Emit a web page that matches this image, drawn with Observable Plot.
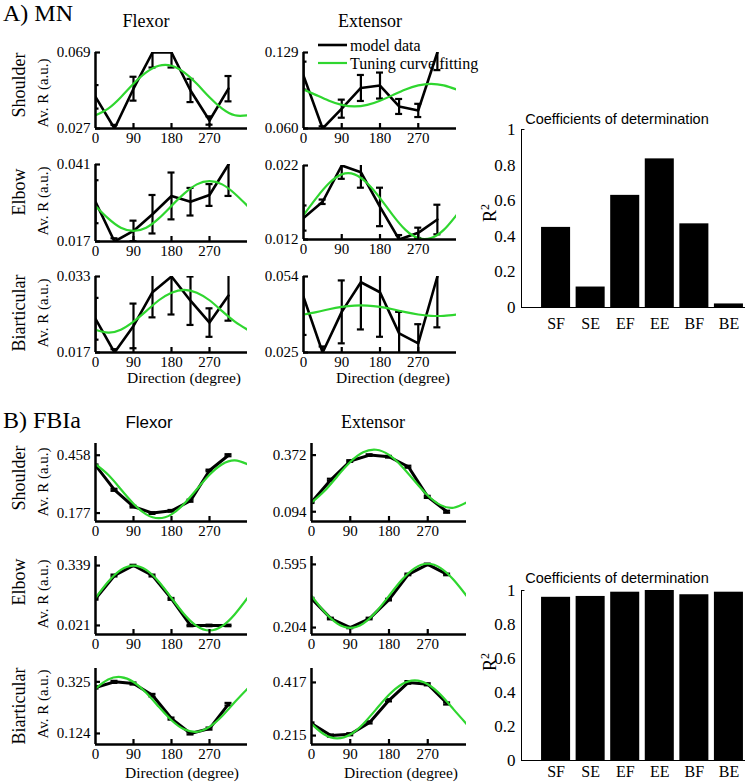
<!DOCTYPE html>
<html><head><meta charset="utf-8">
<script src="https://cdn.jsdelivr.net/npm/d3@7"></script>
<script src="https://cdn.jsdelivr.net/npm/@observablehq/plot@0.6"></script>
<style>
html,body{margin:0;padding:0;background:#fff;}
#fig{position:relative;width:745px;height:783px;overflow:hidden;background:#fff;}
#fig svg{position:absolute;}
</style></head><body><div id="fig"></div>
<script>
// ---------- data ----------
const directions = [0, 45, 90, 135, 180, 225, 270, 315];
const fitDirections = [0, 30, 60, 90, 120, 150, 180, 210, 240, 270, 300, 330, 360];
const directionTicks = [0, 90, 180, 270];

// A) MN
const mnShoulderFlexor = [0.0445, 0.027, 0.049, 0.069, 0.069, 0.048, 0.0314, 0.049];
const mnShoulderFlexorErr = [0.0065, 0.002, 0.0066, 0.0083, 0.0083, 0.0064, 0.0023, 0.007];
const mnShoulderFlexorFit = [0.0343, 0.0380, 0.0443, 0.0517, 0.0580, 0.0617, 0.0617, 0.0580, 0.0517, 0.0443, 0.0380, 0.0343, 0.0343];
const mnShoulderFlexorTicks = [0.027, 0.069];

const mnShoulderExtensor = [0.108, 0.060, 0.078, 0.0968, 0.099, 0.080, 0.0764, 0.129];
const mnShoulderExtensorErr = [0.0127, 0.002, 0.0082, 0.0118, 0.0118, 0.0068, 0.006, 0.016];
const mnShoulderExtensorFit = [0.0955, 0.0903, 0.0852, 0.0814, 0.0800, 0.0814, 0.0852, 0.0903, 0.0955, 0.0992, 0.1006, 0.0992, 0.0955];
const mnShoulderExtensorTicks = [0.060, 0.129];

const mnElbowFlexor = [0.0294, 0.017, 0.0203, 0.0255, 0.0312, 0.0294, 0.0315, 0.041];
const mnElbowFlexorErr = [0.0067, 0.001, 0.0032, 0.006, 0.0073, 0.0043, 0.0034, 0.0098];
const mnElbowFlexorFit = [0.0281, 0.0242, 0.0213, 0.0203, 0.0213, 0.0242, 0.0281, 0.0319, 0.0348, 0.0358, 0.0348, 0.0319, 0.0281];
const mnElbowFlexorTicks = [0.017, 0.041];

const mnElbowExtensor = [0.0149, 0.0171, 0.022, 0.0211, 0.0164, 0.012, 0.0129, 0.0147];
const mnElbowExtensorErr = [0.0017, 0.0003, 0.0018, 0.0021, 0.0026, 0.0006, 0.0007, 0.002];
const mnElbowExtensorFit = [0.0153, 0.0176, 0.0196, 0.0208, 0.0208, 0.0196, 0.0176, 0.0153, 0.0133, 0.0122, 0.0122, 0.0133, 0.0153];
const mnElbowExtensorTicks = [0.012, 0.022];

const mnBiarticularFlexor = [0.0241, 0.017, 0.0226, 0.0297, 0.033, 0.0279, 0.0233, 0.029];
const mnBiarticularFlexorErr = [0.0044, 0.0007, 0.0047, 0.0053, 0.008, 0.0051, 0.003, 0.0053];
const mnBiarticularFlexorFit = [0.0218, 0.0212, 0.0218, 0.0235, 0.0257, 0.0280, 0.0296, 0.0302, 0.0296, 0.0280, 0.0257, 0.0235, 0.0218];
const mnBiarticularFlexorTicks = [0.017, 0.033];

const mnBiarticularExtensor = [0.0462, 0.025, 0.0405, 0.0518, 0.048, 0.0323, 0.0285, 0.054];
const mnBiarticularExtensorErr = [0.0145, 0.0023, 0.012, 0.018, 0.017, 0.0082, 0.0073, 0.0194];
const mnBiarticularExtensorFit = [0.0395, 0.0404, 0.0415, 0.0424, 0.0429, 0.0429, 0.0424, 0.0415, 0.0404, 0.0395, 0.0390, 0.0390, 0.0395];
const mnBiarticularExtensorTicks = [0.025, 0.054];

// B) FBIa
const fbShoulderFlexor = [0.409, 0.290, 0.208, 0.177, 0.188, 0.237, 0.384, 0.458];
const fbShoulderFlexorErr = [0.004, 0.005, 0.004, 0.004, 0.004, 0.005, 0.004, 0.005];
const fbShoulderFlexorFit = [0.4142, 0.3628, 0.2925, 0.2223, 0.1708, 0.1520, 0.1708, 0.2223, 0.2925, 0.3628, 0.4142, 0.4330, 0.4142];
const fbShoulderFlexorTicks = [0.177, 0.458];

const fbShoulderExtensor = [0.141, 0.251, 0.343, 0.372, 0.364, 0.315, 0.167, 0.094];
const fbShoulderExtensorErr = [0.004, 0.005, 0.004, 0.004, 0.004, 0.005, 0.005, 0.005];
const fbShoulderExtensorFit = [0.139, 0.1955, 0.2684, 0.3381, 0.3856, 0.3984, 0.3731, 0.3165, 0.2436, 0.1739, 0.1264, 0.1136, 0.139];
const fbShoulderExtensorTicks = [0.094, 0.372];

const fbElbowFlexor = [0.162, 0.286, 0.339, 0.286, 0.162, 0.021, 0.021, 0.021];
const fbElbowFlexorErr = [0.004, 0.005, 0.004, 0.005, 0.005, 0.004, 0.004, 0.004];
const fbElbowFlexorFit = [0.1668, 0.2530, 0.3160, 0.3391, 0.3160, 0.2530, 0.1668, 0.0807, 0.0176, -0.0055, 0.0176, 0.0807, 0.1668];
const fbElbowFlexorTicks = [0.021, 0.339];

const fbElbowExtensor = [0.383, 0.260, 0.204, 0.260, 0.377, 0.533, 0.595, 0.533];
const fbElbowExtensorErr = [0.005, 0.005, 0.004, 0.005, 0.005, 0.005, 0.005, 0.005];
const fbElbowExtensorFit = [0.4005, 0.3013, 0.2286, 0.2020, 0.2286, 0.3013, 0.4005, 0.4998, 0.5724, 0.5990, 0.5724, 0.4998, 0.4005];
const fbElbowExtensorTicks = [0.204, 0.595];

const fbBiarticularFlexor = [0.303, 0.325, 0.3185, 0.273, 0.182, 0.124, 0.143, 0.238];
const fbBiarticularFlexorErr = [0.004, 0.004, 0.004, 0.005, 0.004, 0.004, 0.004, 0.005];
const fbBiarticularFlexorFit = [0.2984, 0.3339, 0.3436, 0.3246, 0.2823, 0.2277, 0.1756, 0.1401, 0.1304, 0.1494, 0.1917, 0.2463, 0.2984];
const fbBiarticularFlexorTicks = [0.124, 0.325];

const fbBiarticularExtensor = [0.261, 0.215, 0.220, 0.265, 0.349, 0.417, 0.410, 0.337];
const fbBiarticularExtensorErr = [0.004, 0.004, 0.004, 0.004, 0.004, 0.005, 0.004, 0.004];
const fbBiarticularExtensorFit = [0.2593, 0.2188, 0.2040, 0.2188, 0.2593, 0.3145, 0.3698, 0.4102, 0.4250, 0.4102, 0.3698, 0.3145, 0.2593];
const fbBiarticularExtensorTicks = [0.215, 0.417];

// Coefficients of determination
const r2Labels = ["SF", "SE", "EF", "EE", "BF", "BE"];
const mnR2 = [0.45, 0.115, 0.63, 0.835, 0.47, 0.02];
const fbR2 = [0.96, 0.965, 0.99, 1.0, 0.975, 0.99];
const r2Ticks = [0, 0.2, 0.4, 0.6, 0.8, 1];

// ---------- layout ----------
const SERIF = "'Liberation Serif', 'Times New Roman', serif";
const SANS = "'Liberation Sans', Arial, sans-serif";
const GREEN = "#2fd62f";
const fig = document.getElementById("fig");

function linePanel(values, errs, fit, ticks, domain, frame, lw) {
  const [left, top, right, bottom] = frame;
  const mL = 62, mR = 8, mT = 8, mB = 26;
  const W = right - left + mL + mR, H = bottom - top + mT + mB;
  const pts = directions.map((d, i) => ({dir: d, v: values[i], e: errs[i]}));
  const fitPts = fitDirections.map((d, i) => ({dir: d, v: fit[i]}));
  const tickLenY = (domain[1] - domain[0]) * 5 / (bottom - top);
  const tickLenX = 360 * 5 / (right - left);
  const cap = 360 * 3.5 / (right - left);
  const svg = Plot.plot({
    width: W, height: H, marginLeft: mL, marginRight: mR, marginTop: mT, marginBottom: mB,
    x: {domain: [0, 360]},
    y: {domain},
    style: {background: "transparent", overflow: "visible", fontFamily: SERIF, fontSize: "15px", color: "black"},
    marks: [
      Plot.axisX({ticks: directionTicks, tickSize: 0, tickPadding: 4, label: null, fontSize: 15}),
      Plot.axisY({ticks, tickSize: 0, tickPadding: 5, tickFormat: d3.format(".3f"), label: null, fontSize: 15}),
      Plot.ruleX(pts, {x: "dir", y1: d => d.v - d.e, y2: d => d.v + d.e, stroke: "black", strokeWidth: 2.2, clip: true}),
      Plot.ruleY(pts, {y: d => d.v - d.e, x1: d => d.dir - cap, x2: d => d.dir + cap, stroke: "black", strokeWidth: 2.2, clip: true}),
      Plot.ruleY(pts, {y: d => d.v + d.e, x1: d => d.dir - cap, x2: d => d.dir + cap, stroke: "black", strokeWidth: 2.2, clip: true}),
      Plot.line(pts, {x: "dir", y: "v", stroke: "black", strokeWidth: lw, clip: true}),
      Plot.line(fitPts, {x: "dir", y: "v", stroke: GREEN, strokeWidth: 2.2, curve: "natural", clip: true}),
      Plot.ruleX([0], {stroke: "black", strokeWidth: 2.5}),
      Plot.ruleY([domain[0]], {stroke: "black", strokeWidth: 2.5}),
      Plot.ruleY(ticks, {x1: 0, x2: tickLenX, stroke: "black", strokeWidth: 2.2}),
      Plot.ruleX([90, 180, 270], {y1: domain[0], y2: domain[0] + tickLenY, stroke: "black", strokeWidth: 2.2})
    ]
  });
  svg.style.left = (left - mL) + "px";
  svg.style.top = (top - mT) + "px";
  fig.appendChild(svg);
}

function barPanel(vals, top, bottom, xPad) {
  const left = 460, mL = 61, mR = 7, mT = 30, mB = 30, W = 310;
  const data = vals.map((v, i) => ({pos: i + 1, v}));
  const svg = Plot.plot({
    width: W, height: bottom - top + mT + mB, marginLeft: mL, marginRight: mR, marginTop: mT, marginBottom: mB,
    x: {domain: [0, 7]},
    y: {domain: [0, 1]},
    style: {background: "transparent", overflow: "visible", fontFamily: SERIF, fontSize: "17px", color: "black"},
    marks: [
      Plot.rectY(data, {x1: d => d.pos - 0.42, x2: d => d.pos + 0.42, y: "v", fill: "black"}),
      Plot.ruleX([0], {stroke: "black", strokeWidth: 1}),
      Plot.ruleY([0], {stroke: "black", strokeWidth: 1}),
      Plot.ruleY([1], {x1: 0, x2: 0.1, stroke: "black", strokeWidth: 1}),
      Plot.axisY({ticks: r2Ticks, tickSize: 0, tickPadding: 6, tickFormat: d => String(d), label: null, fontSize: 17}),
      Plot.axisX({ticks: data.map(d => d.pos), tickSize: 0, tickPadding: xPad, tickFormat: p => r2Labels[p - 1], label: null, fontSize: 16})
    ]
  });
  svg.style.left = left + "px";
  svg.style.top = (top - mT) + "px";
  fig.appendChild(svg);
}

// A) MN panels  frame = [left, top, right, bottom]
linePanel(mnShoulderFlexor, mnShoulderFlexorErr, mnShoulderFlexorFit, mnShoulderFlexorTicks, mnShoulderFlexorTicks, [95, 52, 247, 128], 2.6);
linePanel(mnShoulderExtensor, mnShoulderExtensorErr, mnShoulderExtensorFit, mnShoulderExtensorTicks, mnShoulderExtensorTicks, [303, 52, 456, 128], 2.6);
linePanel(mnElbowFlexor, mnElbowFlexorErr, mnElbowFlexorFit, mnElbowFlexorTicks, mnElbowFlexorTicks, [95, 164, 247, 241], 2.6);
linePanel(mnElbowExtensor, mnElbowExtensorErr, mnElbowExtensorFit, mnElbowExtensorTicks, mnElbowExtensorTicks, [303, 165, 456, 239], 2.6);
linePanel(mnBiarticularFlexor, mnBiarticularFlexorErr, mnBiarticularFlexorFit, mnBiarticularFlexorTicks, mnBiarticularFlexorTicks, [95, 276, 247, 352], 2.6);
linePanel(mnBiarticularExtensor, mnBiarticularExtensorErr, mnBiarticularExtensorFit, mnBiarticularExtensorTicks, mnBiarticularExtensorTicks, [303, 276, 456, 352], 2.6);

// B) FBIa panels
linePanel(fbShoulderFlexor, fbShoulderFlexorErr, fbShoulderFlexorFit, fbShoulderFlexorTicks, [0.136, 0.515], [95, 443, 247, 521], 3);
linePanel(fbShoulderExtensor, fbShoulderExtensorErr, fbShoulderExtensorFit, fbShoulderExtensorTicks, [0.046, 0.429], [311, 443, 466, 521], 3);
linePanel(fbElbowFlexor, fbElbowFlexorErr, fbElbowFlexorFit, fbElbowFlexorTicks, [-0.027, 0.387], [95, 556, 247, 634], 3);
linePanel(fbElbowExtensor, fbElbowExtensorErr, fbElbowExtensorFit, fbElbowExtensorTicks, [0.161, 0.644], [311, 556, 466, 634], 3);
linePanel(fbBiarticularFlexor, fbBiarticularFlexorErr, fbBiarticularFlexorFit, fbBiarticularFlexorTicks, [0.081, 0.377], [95, 668, 247, 744], 3);
linePanel(fbBiarticularExtensor, fbBiarticularExtensorErr, fbBiarticularExtensorFit, fbBiarticularExtensorTicks, [0.181, 0.470], [311, 668, 466, 744], 3);

// bar charts
barPanel(mnR2, 129, 307, 10);
barPanel(fbR2, 590, 760, 5);

// ---------- text overlay ----------
const overlay = d3.create("svg").attr("width", 745).attr("height", 783)
  .style("left", "0px").style("top", "0px").style("pointer-events", "none");
function txt(x, y, s, {size = 15, family = SERIF, anchor = "start", rotate = 0} = {}) {
  const t = overlay.append("text").attr("x", x).attr("y", y)
    .attr("font-size", size).attr("font-family", family)
    .attr("text-anchor", anchor).attr("fill", "black").text(s);
  if (rotate) t.attr("transform", `rotate(${rotate},${x},${y})`);
  return t;
}
txt(3, 21, "A) MN", {size: 24});
txt(3, 428, "B) FBIa", {size: 24});
txt(146, 27, "Flexor", {size: 18, anchor: "middle"});
txt(370, 27, "Extensor", {size: 18, anchor: "middle"});
txt(149, 428, "Flexor", {size: 17, anchor: "middle", family: SANS});
txt(373, 428, "Extensor", {size: 18, anchor: "middle"});

const rowLabels = [["Shoulder", 85, 93], ["Elbow", 192, 201], ["Biarticular", 313, 313],
                   ["Shoulder", 478, 482], ["Elbow", 582, 594], ["Biarticular", 706, 704]];
rowLabels.forEach(([s, cy, ay]) => {
  txt(25, cy, s, {size: 18, anchor: "middle", rotate: -90});
  txt(48, ay, "Av. R (a.u.)", {size: 15, anchor: "middle", rotate: -90});
});
txt(184, 383, "Direction (degree)", {size: 15.5, anchor: "middle"});
txt(393, 383, "Direction (degree)", {size: 15.5, anchor: "middle"});
txt(182, 778, "Direction (degree)", {size: 15.5, anchor: "middle"});
txt(401, 778, "Direction (degree)", {size: 15.5, anchor: "middle"});

// legend
overlay.append("line").attr("x1", 318).attr("x2", 347).attr("y1", 45).attr("y2", 45).attr("stroke", "black").attr("stroke-width", 2.6);
overlay.append("line").attr("x1", 318).attr("x2", 347).attr("y1", 63).attr("y2", 63).attr("stroke", GREEN).attr("stroke-width", 2.2);
txt(350, 51, "model data", {size: 16});
txt(350, 69, "Tuning curve fitting", {size: 16});

// bar chart titles and R^2 labels
txt(617, 124, "Coefficients of determination", {size: 14.5, anchor: "middle", family: SANS});
txt(617, 583, "Coefficients of determination", {size: 14.5, anchor: "middle", family: SANS});
[213, 662].forEach(cy => {
  const t = txt(496, cy, "R", {size: 18, anchor: "middle", rotate: -90});
  t.append("tspan").attr("baseline-shift", "super").attr("font-size", 12).text("2");
});

fig.appendChild(overlay.node());
</script></body></html>
